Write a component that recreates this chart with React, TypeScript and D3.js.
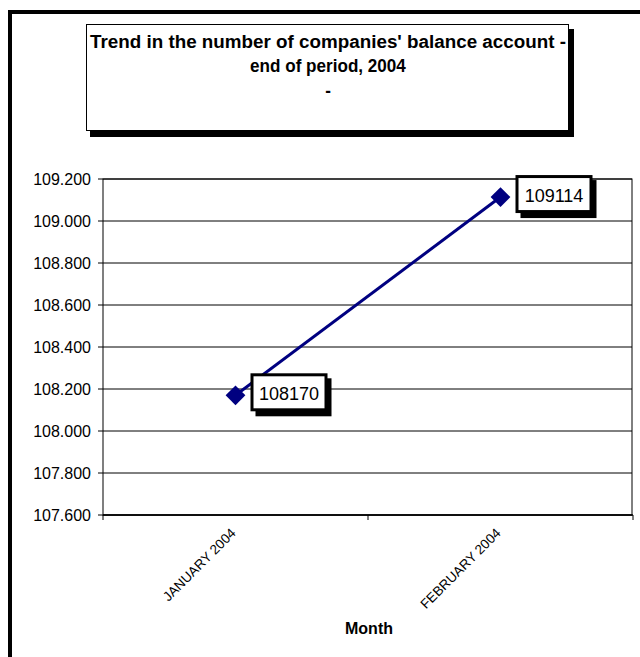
import React from "react";
import * as d3 from "d3";

const categories = ["JANUARY 2004", "FEBRUARY 2004"];
const values = [108170, 109114];
const yTicks = [107600, 107800, 108000, 108200, 108400, 108600, 108800, 109000, 109200];
const titleLines = ["Trend in the number of companies' balance account -", "end of period, 2004", "-"];
const xTitle = "Month";

const W = 640, H = 657;
const plot = { left: 103, right: 633, top: 179, bottom: 515 };

export default function App() {
  const x = d3.scaleBand<string>().domain(categories).range([plot.left, plot.right]);
  const y = d3.scaleLinear().domain([107600, 109200]).range([plot.bottom, plot.top]);
  const fmtY = (v: number) => (v / 1000).toFixed(3);
  const pts = categories.map((c, i) => [x(c)! + x.bandwidth() / 2, y(values[i])] as [number, number]);
  const line = d3.line()(pts)!;
  const font = "Liberation Sans, Arial, sans-serif";
  return (
    <svg width={W} height={H} style={{ position: "absolute", left: 0, top: 0 }} fontFamily={font}>
      <rect x={0} y={0} width={W} height={H} fill="#fff" />
      <rect x={10} y={12} width={700} height={700} fill="#fff" stroke="#000" strokeWidth={4} />
      {/* title box */}
      <rect x={90} y={29} width={484} height={108} fill="#000" />
      <rect x={86.5} y={24.5} width={482} height={106} fill="#fff" stroke="#000" strokeWidth={1} />
      {titleLines.map((t, i) => (
        <text key={i} x={328} y={48 + i * 24.5} textAnchor="middle" fontSize={18} fontWeight="bold"
          {...(i === 0 ? { textLength: 476, lengthAdjust: "spacingAndGlyphs" } : {})}
          transform={i === 0 ? undefined : `translate(328,0) scale(0.95,1) translate(-328,0)`}>{t}</text>
      ))}
      {/* gridlines */}
      {yTicks.map((t) => (
        <g key={t}>
          <line x1={plot.left} x2={plot.right - 1} y1={y(t)} y2={y(t)} stroke="#000" strokeWidth={1} />
          <line x1={plot.left - 5} x2={plot.left} y1={y(t)} y2={y(t)} stroke="#000" />
          <text x={91} y={y(t) + 6} textAnchor="end" fontSize={16}>{fmtY(t)}</text>
        </g>
      ))}
      <rect x={plot.left} y={plot.top} width={plot.right - plot.left - 1} height={plot.bottom - plot.top} fill="none" stroke="#000" />
      <line x1={plot.left} x2={plot.right} y1={plot.bottom} y2={plot.bottom} stroke="#000" strokeWidth={1.5} />
      {/* x ticks */}
      {[...categories.map((c) => x(c)!), plot.right].map((v, i) => (
        <line key={i} x1={v} x2={v} y1={plot.bottom} y2={plot.bottom + 5} stroke="#000" />
      ))}
      {categories.map((c) => {
        const cx = x(c)! + x.bandwidth() / 2;
        return (
          <text key={c} transform={`translate(${cx + 1},${plot.bottom + 19}) rotate(-45)`} textAnchor="end" fontSize={13.5}>{c}</text>
        );
      })}
      <text x={369} y={634} textAnchor="middle" fontSize={16} fontWeight="bold">{xTitle}</text>
      {/* line */}
      <path d={line} fill="none" stroke="#000080" strokeWidth={3} />
      {pts.map((p, i) => (
        <rect key={i} x={p[0] - 7} y={p[1] - 7} width={14} height={14} fill="#000080" transform={`rotate(45,${p[0]},${p[1]})`} />
      ))}
      {pts.map((p, i) => (
        <g key={"l" + i}>
          <rect x={p[0] + 20} y={p[1] - 17} width={76} height={38} fill="#000" />
          <rect x={p[0] + 16.5} y={p[1] - 20.5} width={74} height={35} fill="#fff" stroke="#000" strokeWidth={3} />
          <text x={p[0] + 53.5} y={p[1] + 5} textAnchor="middle" fontSize={18}>{values[i]}</text>
        </g>
      ))}
    </svg>
  );
}
